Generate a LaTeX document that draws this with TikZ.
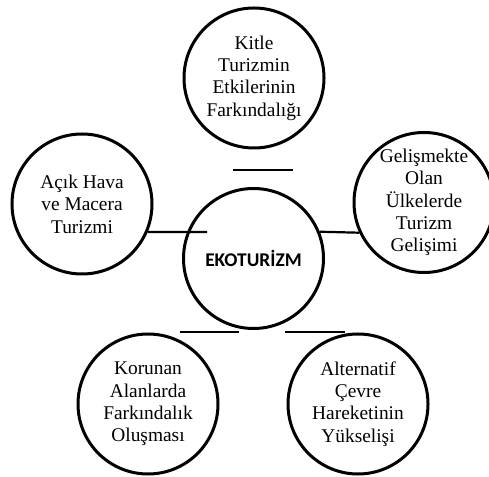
\documentclass[tikz,border=0pt]{standalone}
\usepackage{fontspec}
\setmainfont{Liberation Serif}
\newfontfamily\ekofont{Carlito}
\usetikzlibrary{positioning}
\tikzset{>=latex}

\begin{document}
\begin{tikzpicture}[x=1pt,y=1pt]

        % Setup the styles for the circles and the lines
        \tikzset{topic style/.style={circle,
                                     minimum size=140pt,
                                     inner sep=0pt,
                                     line width=3pt,
                                     draw=black,
                                     align=center,
                                     font=\fontsize{19.4}{22.4}\selectfont},
                 bar style/.style={line width=2.2pt, draw=black}}

        \useasboundingbox (0,0) rectangle (489,476);

        % Draw the circles
        \node[topic style] at (253.5, 217.5) (eko)     {\ekofont\bfseries EKOTURİZM};
        \node[topic style] at (254, 398)     (kitle)   {Kitle\\Turizmin\\Etkilerinin\\Farkındalığı};
        \node[topic style] at (82, 272)      (acik)    {Açık Hava\\ve Macera\\Turizmi};
        \node[topic style] at (424, 273.5)   (gelis)   {Gelişmekte\\Olan\\Ülkelerde\\Turizm\\Gelişimi};
        \node[topic style] at (148, 72)      (korunan) {Korunan\\Alanlarda\\Farkındalık\\Oluşması};
        \node[topic style] at (358, 72)      (alter)   {Alternatif\\Çevre\\Hareketinin\\Yükselişi};

        % Free ends of the short lines
        \coordinate (topL) at (233, 306);
        \coordinate (topR) at (293, 306);
        \coordinate (midL) at (207, 244);
        \coordinate (botA) at (180, 144);
        \coordinate (botB) at (239, 144);
        \coordinate (botC) at (285, 144);
        \coordinate (botD) at (345, 144);

        % Draw the lines
        \draw[bar style] (topL) -- (topR);
        \draw[bar style] (acik.-23.6) -- (midL);
        \draw[bar style] (eko.22) -- (gelis.205);
        \draw[bar style] (botA) -- (botB);
        \draw[bar style] (botC) -- (botD);
    \end{tikzpicture}
\end{document}
